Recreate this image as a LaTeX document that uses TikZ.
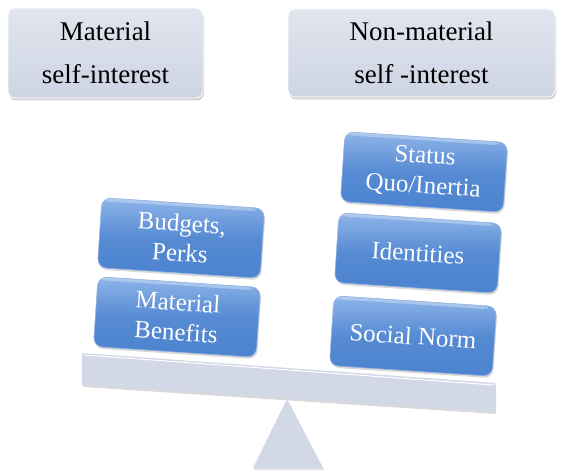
\documentclass[tikz,border=0pt]{standalone}
\usepackage{fontspec}
\setmainfont{Liberation Serif}
\usetikzlibrary{positioning,shadows}

\definecolor{topgray}{HTML}{CDD4E3}
\definecolor{toplight}{HTML}{E1E5EE}
\definecolor{blockblue}{HTML}{4C83CF}
\definecolor{blocklight}{HTML}{8FB5E9}
\definecolor{beamgray}{HTML}{D2D8E6}

\tikzset{
  topbox/.style={rounded corners=7pt, top color=toplight, bottom color=topgray,
    draw=white, line width=0.8pt, align=center, inner sep=0pt,
    font=\fontsize{27}{43}\selectfont, text=black,
    drop shadow={opacity=0.35, shadow xshift=1pt, shadow yshift=-2.5pt}},
  blockbox/.style={rounded corners=9pt, top color=blocklight, bottom color=blockblue,
    middle color=blockblue!85!blocklight, draw=blockblue!60!white, line width=0.6pt,
    minimum width=163pt, minimum height=70pt, align=center, inner sep=0pt,
    font=\fontsize{25}{30}\selectfont, text=white, rotate=-3.8,
    path picture={\fill[white, opacity=0.3, rounded corners=4pt]
      ([xshift=8pt,yshift=-3pt]path picture bounding box.north west) rectangle
      ([xshift=-8pt,yshift=-11pt]path picture bounding box.north east);},
    drop shadow={opacity=0.3, shadow xshift=1pt, shadow yshift=-2pt}}
}

\begin{document}
\begin{tikzpicture}[x=1pt,y=-1pt]
  \useasboundingbox (0,0) rectangle (567,473);

  % the two headings
  \node[topbox, minimum width=195pt, minimum height=90pt] (material) at (105.5,53)
    {Material\\self-interest};
  \node[topbox, minimum width=267pt, minimum height=88pt] (nonmaterial) at (421.5,53)
    {Non-material\\self -interest};

  % the balance
  \fill[beamgray, drop shadow={opacity=0.3, shadow xshift=1pt, shadow yshift=-2pt}]
    (82,353) -- (495,383) -- (495,412) -- (82,385) -- cycle;
  \draw[white, line width=1pt] (84,355) -- (493,385);
  \fill[beamgray, drop shadow={opacity=0.25, shadow xshift=1pt, shadow yshift=-2pt}]
    (287,399) -- (323,468) -- (253,468) -- cycle;

  % left pan
  \node[blockbox] (benefits) at (177,317) {Material\\Benefits};
  \node[blockbox] (budgets) at (181,238) {Budgets,\\Perks};

  % right pan
  \node[blockbox] (norm) at (413,336) {Social Norm};
  \node[blockbox] (identities) at (418,253) {Identities};
  \node[blockbox] (status) at (424,172) {Status\\Quo/Inertia};
\end{tikzpicture}
\end{document}
